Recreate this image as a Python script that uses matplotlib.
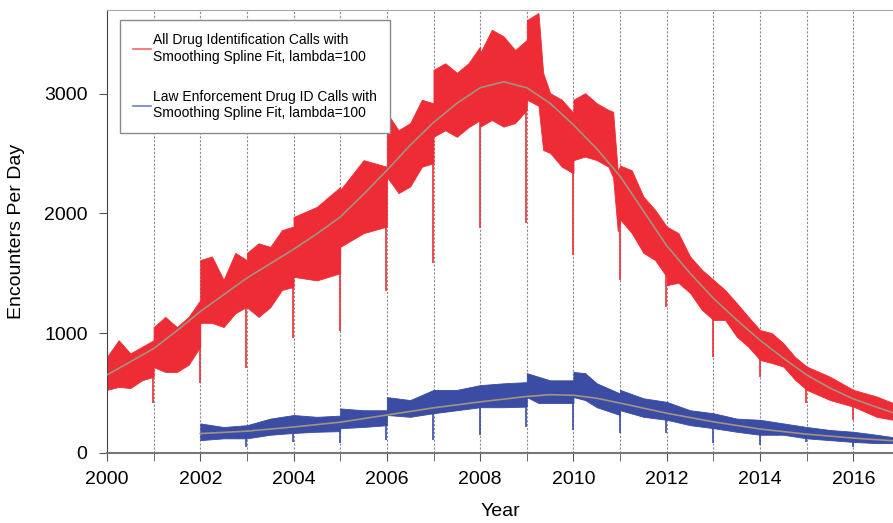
import matplotlib
matplotlib.use("Agg")
import matplotlib.pyplot as plt

# values (encounters per day)
# red band: all drug identification calls, upper / lower edge of the daily noise
red_x = [2000.0, 2000.25, 2000.5, 2000.75, 2000.999,
         2001.0, 2001.25, 2001.5, 2001.75, 2001.999,
         2002.0, 2002.25, 2002.5, 2002.75, 2002.999,
         2003.0, 2003.25, 2003.5, 2003.75, 2003.999,
         2004.0, 2004.5, 2004.999,
         2005.0, 2005.5, 2005.999,
         2006.0, 2006.25, 2006.5, 2006.75, 2006.999,
         2007.0, 2007.25, 2007.5, 2007.75, 2007.999,
         2008.0, 2008.25, 2008.5, 2008.75, 2008.999,
         2009.0, 2009.25, 2009.35, 2009.5, 2009.75, 2009.999,
         2010.0, 2010.25, 2010.5, 2010.75, 2010.85, 2010.95,
         2011.0, 2011.25, 2011.5, 2011.75, 2011.999,
         2012.0, 2012.25, 2012.5, 2012.75,
         2013.0, 2013.25, 2013.5, 2013.75,
         2014.0, 2014.25, 2014.5, 2014.75,
         2015.0, 2015.5, 2016.0, 2016.5, 2016.85]
red_hi = [800, 940, 830, 885, 940,
          1050, 1135, 1050, 1135, 1275,
          1610, 1640, 1445, 1670, 1610,
          1670, 1750, 1720, 1860, 1890,
          1970, 2055, 2220,
          2195, 2445, 2390,
          2840, 2695, 2755, 2950, 2920,
          3200, 3255, 3175, 3255, 3395,
          3340, 3535, 3480, 3365, 3450,
          3615, 3675, 3175, 3005, 2950, 2840,
          2950, 3005, 2920, 2865, 2850, 2350,
          2400, 2360, 2140, 2030, 1890,
          1890, 1835, 1640, 1530,
          1445, 1360, 1250, 1135,
          1025, 1000, 915, 800,
          720, 635, 525, 470, 415]
red_lo = [525, 550, 540, 605, 635,
          715, 675, 675, 735, 885,
          1085, 1085, 1050, 1165, 1220,
          1215, 1135, 1215, 1360, 1385,
          1470, 1440, 1500,
          1720, 1835, 1890,
          2305, 2170, 2225, 2390, 2420,
          2640, 2695, 2640, 2720, 2780,
          2725, 2780, 2725, 2755, 2865,
          2950, 2900, 2530, 2505, 2390, 2335,
          2445, 2475, 2445, 2390, 2300, 1850,
          1950, 1835, 1670, 1610, 1470,
          1400, 1420, 1335, 1195,
          1110, 1110, 970, 885,
          775, 750, 720, 610,
          525, 440, 385, 300, 275]

# smoothing spline fit (red series)
red_fit_x = [2000, 2000.5, 2001, 2001.5, 2002, 2002.5, 2003, 2003.5, 2004, 2004.5,
             2005, 2005.5, 2006, 2006.5, 2007, 2007.5, 2008, 2008.5, 2009, 2009.5,
             2010, 2010.5, 2011, 2011.5, 2012, 2012.5, 2013, 2013.5, 2014, 2014.5,
             2015, 2015.5, 2016, 2016.5, 2016.85]
red_fit = [650, 760, 870, 1020, 1180, 1320, 1460, 1580, 1700, 1830,
           1970, 2160, 2360, 2570, 2760, 2920, 3050, 3100, 3050, 2920,
           2740, 2540, 2310, 2020, 1730, 1500, 1290, 1110, 940, 790,
           650, 540, 450, 380, 335]

# holiday dips (late December / New Year) of the red series
red_dip_x = [2001, 2002, 2003, 2004, 2005, 2006, 2007, 2008,
             2009, 2010, 2011, 2012, 2013, 2014, 2015, 2016]
red_dip = [415, 580, 710, 960, 1020, 1350, 1585, 1880,
           1920, 1650, 1440, 1220, 800, 635, 415, 275]

# blue band: law enforcement drug ID calls
blue_x = [2002.0, 2002.5, 2003.0, 2003.5, 2004.0, 2004.5, 2004.999,
          2005.0, 2005.5, 2005.999, 2006.0, 2006.5, 2007.0, 2007.5,
          2008.0, 2008.5, 2008.999, 2009.0, 2009.25, 2009.5, 2009.999,
          2010.0, 2010.25, 2010.5, 2010.999, 2011.0, 2011.5, 2012.0,
          2012.5, 2013.0, 2013.5, 2014.0, 2014.5, 2015.0, 2015.5,
          2016.0, 2016.5, 2016.85]
blue_hi = [245, 215, 230, 285, 315, 300, 310,
           370, 355, 355, 465, 440, 525, 525,
           565, 580, 590, 665, 635, 605, 605,
           675, 665, 580, 495, 525, 455, 425,
           355, 330, 285, 275, 245, 215, 190,
           175, 150, 130]
blue_lo = [105, 120, 120, 150, 165, 175, 180,
           205, 215, 230, 315, 300, 330, 355,
           380, 380, 385, 465, 415, 415, 415,
           465, 440, 380, 315, 355, 300, 275,
           230, 205, 175, 150, 150, 120, 105,
           90, 80, 80]

blue_fit_x = [2002, 2003, 2004, 2005, 2006, 2007, 2008, 2009, 2009.5,
              2010, 2010.5, 2011, 2012, 2013, 2014, 2015, 2016, 2016.85]
blue_fit = [160, 180, 215, 255, 315, 375, 425, 470, 485,
            480, 455, 415, 330, 258, 198, 155, 122, 100]

blue_dip_x = [2003, 2004, 2005, 2006, 2007, 2008, 2009,
              2010, 2011, 2012, 2013, 2014, 2015, 2016]
blue_dip = [50, 90, 80, 105, 105, 150, 215,
            190, 165, 165, 80, 65, 90, 50]

year_lines = list(range(2001, 2017))

RED = "#ED2C35"
BLUE = "#3A4CA3"
FIT = "#A39380"


def main():
    plt.rcParams["font.family"] = ["Liberation Sans", "DejaVu Sans"]
    fig = plt.figure(figsize=(8.93, 5.23), dpi=100)
    ax = fig.add_axes([0.1198, 0.1344, 0.8802, 0.8465])

    # dashed year lines
    for yr in year_lines:
        ax.axvline(yr, color="#8C8C8C", lw=0.8, ls=(0, (2, 1.5)), zorder=1)

    # red series: band + holiday dips
    ax.fill_between(red_x, red_lo, red_hi, color=RED, lw=0.6, edgecolor=RED, zorder=2)
    for x, lo, fit in zip(red_dip_x, red_dip, [red_fit[red_fit_x.index(d)] for d in red_dip_x]):
        ax.vlines(x - 0.01, lo, fit, color=RED, lw=1.2, zorder=2)
    ax.plot(red_fit_x, red_fit, color=FIT, lw=1.2, zorder=4)

    # blue series
    ax.fill_between(blue_x, blue_lo, blue_hi, color=BLUE, lw=0.6, edgecolor=BLUE, zorder=3)
    for x, lo, fit in zip(blue_dip_x, blue_dip, [blue_fit[blue_fit_x.index(d)] for d in blue_dip_x]):
        ax.vlines(x - 0.01, lo, fit, color=BLUE, lw=1.2, zorder=3)
    ax.plot(blue_fit_x, blue_fit, color=FIT, lw=1.2, zorder=4)

    # legend with plain line handles
    h1, = ax.plot([], [], color="#F06A6A", lw=1.2)
    h2, = ax.plot([], [], color="#6F7FCC", lw=1.2)
    leg = ax.legend([h1, h2],
                    ["All Drug Identification Calls with\nSmoothing Spline Fit, lambda=100",
                     "Law Enforcement Drug ID Calls with\nSmoothing Spline Fit, lambda=100"],
                    loc="upper left", bbox_to_anchor=(0.0165, 0.977), borderaxespad=0,
                    fontsize=10, fancybox=False, framealpha=1, edgecolor="#8A8A8A",
                    handlelength=1.3, handletextpad=0.15, labelspacing=1.9,
                    borderpad=0.95)
    leg.get_frame().set_linewidth(1.0)
    leg.set_zorder(6)

    ax.set_xlim(2000, 2016.85)
    ax.set_ylim(0, 3700)
    ax.set_xticks(range(2000, 2017, 2))
    ax.set_xticks(range(2001, 2017, 2), minor=True)
    ax.set_yticks([0, 1000, 2000, 3000])
    ax.tick_params(axis="both", which="both", labelsize=14, length=6, color="#555555")
    ax.tick_params(axis="y", pad=8)
    ax.tick_params(axis="x", pad=7)

    ax.set_xlabel("Year", fontsize=14, labelpad=11)
    ax.set_ylabel("Encounters Per Day", fontsize=14, labelpad=14)

    ax.spines["right"].set_visible(False)
    ax.spines["top"].set_color("#A8A8A8")
    ax.spines["left"].set_color("#444444")
    ax.spines["bottom"].set_color("#777777")
    ax.spines["bottom"].set_linewidth(1.5)

    fig.savefig("out.png", dpi=100)


if __name__ == "__main__":
    main()
